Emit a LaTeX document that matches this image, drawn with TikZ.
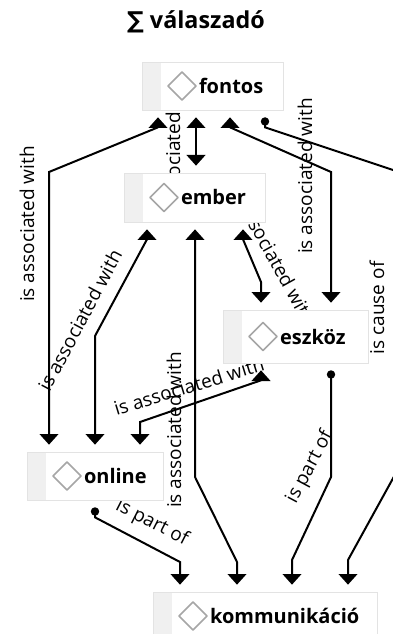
\documentclass[tikz,border=0pt]{standalone}
\usepackage{fontspec}
\setmainfont{Open Sans}
\newfontfamily\sigmafont{DejaVu Sans}
\usetikzlibrary{arrows.meta,backgrounds}

\tikzstyle{concept}=[draw=gray!22, line width=0.6pt, fill=white, inner xsep=0pt, inner ysep=0pt, outer sep=5.5pt,
  align=left, font=\fontsize{15}{18}\selectfont\bfseries, execute at begin node={\hspace*{42.75pt}},
  path picture={
    \fill[gray!12] (path picture bounding box.north west) rectangle ([xshift=14pt]path picture bounding box.south west);
    \draw[gray!70, line width=1.3pt, line join=round] ([xshift=19.5pt]path picture bounding box.west)
      -- ++(10.5pt,10.5pt) -- ++(10.5pt,-10.5pt) -- ++(-10.5pt,-10.5pt) -- cycle;
  }]
\tikzstyle{link}=[line width=1.5pt, {Triangle[width=14pt,length=8pt]}-{Triangle[width=14pt,length=8pt]}]
\tikzstyle{part}=[line width=1.5pt, {Circle[length=6.2pt]}-{Triangle[width=14pt,length=8pt]}]
\tikzstyle{lbl}=[font=\fontsize{14.3}{17}\selectfont, inner sep=0pt]

\begin{document}
\begin{tikzpicture}[x=0.75pt, y=-0.75pt]
  \useasboundingbox (0,0) rectangle (392,634);

  \draw (196,22) node[font=\fontsize{17.5}{20}\selectfont\bfseries](title){{\sigmafont ∑} válaszadó};
  %
  \draw (212.5,86)    node[concept, text width=105.75pt, minimum height=36pt](fontos){fontos};
  \draw (194.5,197.5) node[concept, text width=105.75pt, minimum height=36.75pt](ember){ember};
  \draw (295.5,336.5) node[concept, text width=108.75pt, minimum height=39.75pt](eszkoz){eszköz};
  \draw (95,476)      node[concept, text width=102pt, minimum height=36pt](online){online};
  \draw (265,616)     node[concept, text width=168pt, minimum height=36pt](komm){kommunikáció};
  %
  \begin{scope}[on background layer]
  \draw[link] (fontos.south -| 158,0) -- ++(0,10) -- (49,172) -- (online.north -| 49,0);
  \draw[link] (fontos.south -| 196,0) -- (ember.north -| 196,0);
  \draw[link] (ember.south -| 147,0) -- ++(0,10) -- (95,336) -- (online.north -| 95,0);
  \draw[link] (fontos.south -| 230,0) -- ++(0,10) -- (331,172) -- (eszkoz.north -| 331,0);
  \draw[link] (ember.south -| 243,0) -- ++(0,10) -- (261,282) -- (eszkoz.north -| 261,0);
  \draw[part] (fontos.south -| 265,0) -- ++(0,10) -- (402,173) -- (402,462) -- (348,560) -- (komm.north -| 348,0);
  \draw[part] (eszkoz.south -| 331,0) -- (331,477) -- (292,560) -- (komm.north -| 292,0);
  \draw[link] (ember.south -| 195,0) -- (195,477) -- (237,562) -- (komm.north -| 237,0);
  \draw[link] (eszkoz.south -| 261,0) -- ++(0,10) -- (140,422) -- (online.north -| 140,0);
  \draw[part] (online.south -| 95,0) -- ++(0,10) -- (180,562) -- (komm.north -| 180,0);
  %
  \draw (27,224)  node[lbl, rotate=90](l-fo-on){is associated with};
  \draw (173,147) node[lbl, rotate=90](l-fo-em){is associated with};
  \draw (80,320)  node[lbl, rotate=62](l-em-on){is associated with};
  \draw (305,176) node[lbl, rotate=90](l-fo-es){is associated with};
  \draw (273,255) node[lbl, rotate=-61](l-em-es){is associated with};
  \draw (377,308) node[lbl, rotate=90](l-fo-ko){is cause of};
  \draw (310,467) node[lbl, rotate=62](l-es-ko){is part of};
  \draw (174,430) node[lbl, rotate=90](l-em-ko){is associated with};
  \draw (189,386) node[lbl, rotate=17](l-es-on){is associated with};
  \draw (152,523) node[lbl, rotate=-27](l-on-ko){is part of};
  \end{scope}
\end{tikzpicture}
\end{document}
